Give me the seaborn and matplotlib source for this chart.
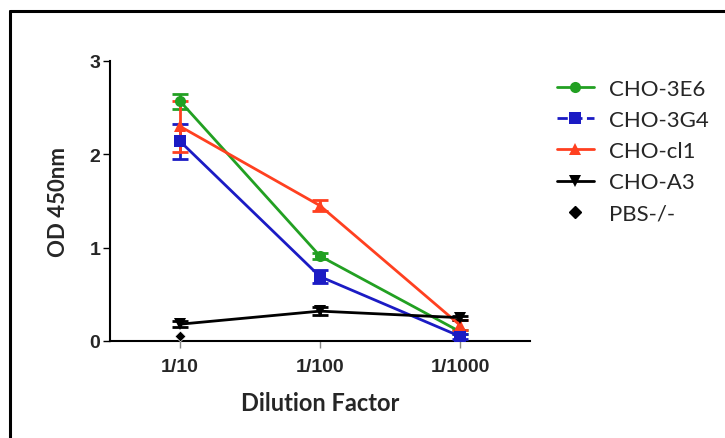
import matplotlib
matplotlib.use("Agg")
import matplotlib.pyplot as plt
import seaborn as sns
import pandas as pd
import numpy as np
from matplotlib.lines import Line2D

categories = ["1/10", "1/100", "1/1000"]
series = ["CHO-3E6", "CHO-3G4", "CHO-cl1", "CHO-A3"]
means = {
    "CHO-3E6": [2.57, 0.91, 0.10],
    "CHO-3G4": [2.14, 0.69, 0.05],
    "CHO-cl1": [2.30, 1.45, 0.17],
    "CHO-A3": [0.18, 0.32, 0.25],
}
errors = {
    "CHO-3E6": [0.08, 0.03, 0.02],
    "CHO-3G4": [0.19, 0.07, 0.03],
    "CHO-cl1": [0.27, 0.06, 0.05],
    "CHO-A3": [0.03, 0.04, 0.02],
}
pbs_category = ["1/10"]
pbs_value = [0.05]

colors = {"CHO-3E6": "#22a022", "CHO-3G4": "#1b1bc4", "CHO-cl1": "#ff4020", "CHO-A3": "#000000"}
markers = {"CHO-3E6": "o", "CHO-3G4": "s", "CHO-cl1": "^", "CHO-A3": "v"}

sns.set_style("white")
plt.rcParams["font.family"] = ["Liberation Sans", "DejaVu Sans"]

rows = []
for s in series:
    for i, c in enumerate(categories):
        rows.append({"series": s, "pos": i, "cat": c, "od": means[s][i], "err": errors[s][i]})
df = pd.DataFrame(rows)

fig = plt.figure(figsize=(7.25, 4.39), dpi=100)
ax = fig.add_axes([110 / 725, 1 - 342 / 439, 420 / 725, 280 / 439])

for s in series:
    d = df[df.series == s]
    ax.errorbar(d.pos, d.od, yerr=d.err, fmt="none", ecolor=colors[s], elinewidth=2,
                capsize=6, capthick=2, zorder=3)
sns.lineplot(data=df, x="pos", y="od", hue="series", hue_order=series, palette=colors,
             style="series", markers=markers, dashes=False, markersize=8, linewidth=2,
             markeredgewidth=0, ax=ax, legend=False, zorder=4)
pbs_pos = [categories.index(c) for c in pbs_category]
sns.scatterplot(x=pbs_pos, y=pbs_value, marker="D", color="black", s=30, ax=ax, zorder=5)

ax.set_xlim(-0.5, 2.5)
ax.set_ylim(0, 3)
ax.set_xticks(range(len(categories)))
ax.set_xticklabels(categories)
ax.set_yticks([0, 1, 2, 3])
for sp in ["top", "right"]:
    ax.spines[sp].set_visible(False)
for sp in ["left", "bottom"]:
    ax.spines[sp].set_linewidth(1.5)
    ax.spines[sp].set_color("black")
ax.tick_params(axis="y", direction="out", length=5, width=1, color="black", labelsize=14, pad=2, left=True)
ax.tick_params(axis="x", direction="out", length=5, width=1, color="#888888", labelsize=14, pad=7, bottom=True)
for lab in ax.get_xticklabels() + ax.get_yticklabels():
    lab.set_fontweight("bold")
ax.set_xlabel("Dilution Factor", fontsize=17, fontweight="bold", family=["Lato", "DejaVu Sans"], labelpad=12)
ax.set_ylabel("OD 450nm", fontsize=16, fontweight="bold", family=["Lato", "DejaVu Sans"], labelpad=15)

handles = []
for s in series:
    ls = "--" if s == "CHO-3G4" else "-"
    handles.append(Line2D([], [], color=colors[s], marker=markers[s], linestyle=ls, linewidth=2,
                          markersize=8, markeredgewidth=0))
handles.append(Line2D([], [], color="black", marker="D", linestyle="none", markersize=6))
labels = series + ["PBS-/-"]
leg = fig.legend(handles, labels, loc="upper left", bbox_to_anchor=(557 / 725, 1 - 80 / 439),
                 frameon=False, prop={"family": ["Lato", "DejaVu Sans"], "size": 16},
                 handlelength=1.65, labelspacing=0.5, handletextpad=0.7,
                 borderpad=0, borderaxespad=0)

# figure frame (top and left edges)
fig.add_artist(Line2D([10 / 725, 10 / 725], [0, 1 - 12 / 439], color="black", linewidth=2.2,
                      transform=fig.transFigure))
fig.add_artist(Line2D([10 / 725, 1], [1 - 12 / 439, 1 - 12 / 439], color="black", linewidth=2.2,
                      transform=fig.transFigure))

fig.savefig("out.png", dpi=100)
